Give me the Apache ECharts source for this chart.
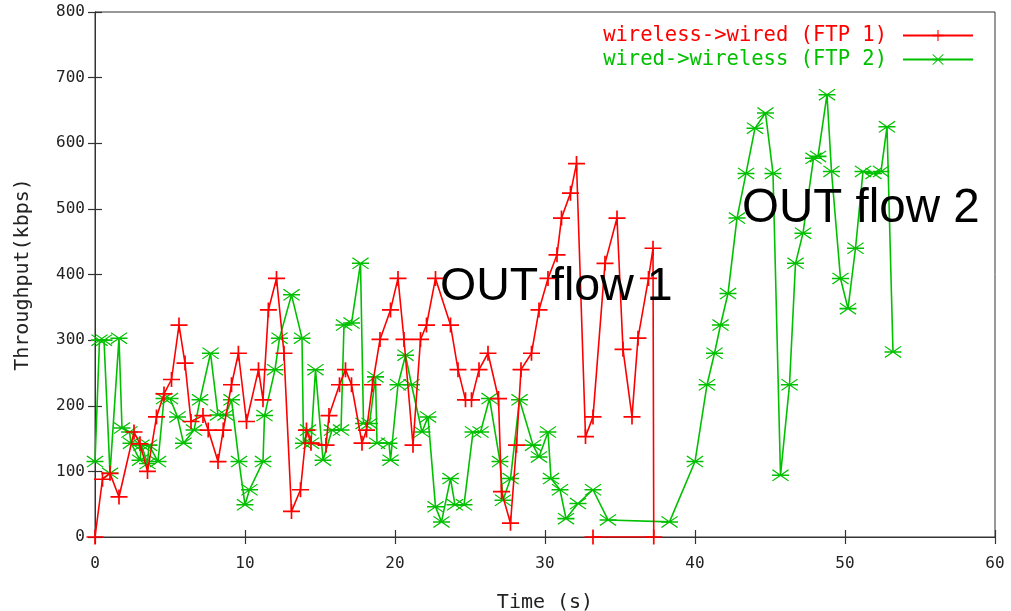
<!DOCTYPE html>
<html>
<head>
<meta charset="utf-8">
<script src="https://cdn.jsdelivr.net/npm/echarts@6/dist/echarts.min.js"></script>
<style>
html,body{margin:0;padding:0;background:#fff;}
#c{width:1011px;height:611px;}
</style>
</head>
<body>
<div id="c"></div>
<script>
// ---- data (time in s, throughput in kbps) ----
const seriesNames = ['wireless->wired (FTP 1)', 'wired->wireless (FTP 2)'];
const ftp1Time = [0,0.5,1.0,1.6,2.6,3.0,3.5,4.1,4.6,5.1,5.6,6.0,6.4,7.2,7.55,8.2,8.55,9.1,9.56,10.1,10.9,11.2,11.56,12.1,12.6,13.1,13.7,14.1,14.4,15.4,15.6,16.3,16.7,17.1,17.8,18.1,18.5,19.0,19.7,20.2,20.6,21.2,21.7,22.1,22.7,23.7,24.2,24.7,25.1,25.6,26.2,26.9,27.1,27.7,28.1,28.4,29.1,29.6,30.2,30.8,31.1,31.7,32.1,32.7,33.2,34.0,34.8,35.2,35.8,36.2,36.9,37.2,37.25,33.2];
const ftp1Kbps = [0,88,97,61,160,142,100,183,218,240,323,265,176,185,163,115,163,232,280,176,255,209,346,394,280,39,72,163,143,140,185,232,255,232,143,163,232,301,346,394,301,140,301,323,394,323,255,209,209,255,280,211,69,21,140,255,280,346,394,430,486,524,569,153,183,417,486,286,183,303,394,440,0,0];
const ftp2Time = [0,0.3,0.6,1.0,1.6,1.8,2.3,2.4,3.0,3.1,3.5,3.6,4.2,4.6,5.0,5.5,5.9,6.6,7.0,7.7,8.2,8.7,9.1,9.6,10.0,10.3,11.2,11.3,12.0,12.3,13.1,13.8,13.9,14.2,14.4,14.7,15.2,15.8,16.4,16.6,17.1,17.7,17.9,18.3,18.7,18.8,19.6,19.7,20.2,20.7,21.1,21.8,22.2,22.7,23.1,23.7,24.0,24.6,25.2,25.7,26.3,27.0,27.2,27.7,28.3,29.2,29.6,30.2,30.4,31.0,31.4,32.2,33.2,34.2,38.3,40.0,40.8,41.3,41.7,42.2,42.8,43.4,44.0,44.7,45.2,45.7,46.3,46.7,47.2,47.9,48.2,48.8,49.1,49.7,50.2,50.7,51.2,51.9,52.4,52.8,53.2];
const ftp2Kbps = [115,300,300,97,303,166,160,143,117,140,112,140,115,211,211,183,143,163,209,280,186,186,209,115,49,72,115,185,255,303,369,303,143,163,143,255,117,163,163,323,326,417,173,173,244,143,143,117,232,277,232,160,183,46,23,89,49,49,160,160,211,115,56,89,209,140,122,160,89,72,28,51,72,26,23,115,232,280,323,371,486,554,623,646,554,94,232,417,463,577,580,674,557,394,348,440,557,554,557,625,282];
const xTicks = {min: 0, max: 60, interval: 10};
const yTicks = {min: 0, max: 800, interval: 100};
const annotations = ['OUT flow 1', 'OUT flow 2'];

function pairs(t, v){ return t.map((x,i)=>[x, v[i]]); }

const plusPath = 'path://M0,6.2h16v1.6h-16z M7.2,0h1.6v14h-1.6z';
const starPath = 'path://M0,4.8h16v1.4h-16z M0.8,0L16,10.2L15.2,11L0,0.8z M15.2,0L16,0.8L0.8,11L0,10.2z';

const mono = 'DejaVu Sans Mono';
const chart = echarts.init(document.getElementById('c'), null, {renderer:'canvas'});
const axisCommon = {
  axisLine:{show:true, lineStyle:{color:'#333', width:1}},
  axisTick:{show:true, inside:true, length:7, lineStyle:{color:'#333', width:1.2}},
  splitLine:{show:false}
};
chart.setOption({
  animation:false,
  backgroundColor:'#fff',
  grid:{left:95, right:16, top:12, bottom:74, show:true, borderColor:'#333', borderWidth:1,
        containLabel:false, outerBoundsMode:'none'},
  legend:{
    orient:'vertical', align:'right', right:32, top:20, itemWidth:70, itemHeight:14, itemGap:3,
    textStyle:{fontFamily:mono, fontSize:20.5, padding:[0,11,0,0]},
    data:[
      {name:seriesNames[0], textStyle:{color:'#ff0000'}},
      {name:seriesNames[1], textStyle:{color:'#00c000'}}
    ]
  },
  xAxis:[
    Object.assign({type:'value', position:'bottom', min:xTicks.min, max:xTicks.max, interval:xTicks.interval,
      name:'Time (s)', nameLocation:'middle', nameGap:56,
      nameTextStyle:{fontFamily:mono, fontSize:20, color:'#222'},
      axisLabel:{fontFamily:mono, fontSize:16, color:'#222', margin:19}}, axisCommon),
    Object.assign({type:'value', position:'top', min:xTicks.min, max:xTicks.max, interval:xTicks.interval,
      axisLabel:{show:false}}, axisCommon)
  ],
  yAxis:[
    Object.assign({type:'value', position:'left', min:yTicks.min, max:yTicks.max, interval:yTicks.interval,
      name:'Throughput(kbps)', nameLocation:'middle', nameGap:62, nameRotate:90,
      nameTextStyle:{fontFamily:mono, fontSize:20, color:'#222'},
      axisLabel:{fontFamily:mono, fontSize:16, color:'#222', margin:10}}, axisCommon),
    Object.assign({type:'value', position:'right', min:yTicks.min, max:yTicks.max, interval:yTicks.interval,
      axisLabel:{show:false}}, axisCommon)
  ],
  series:[
    {name:seriesNames[0], type:'line', xAxisIndex:0, yAxisIndex:0, data:pairs(ftp1Time, ftp1Kbps),
      symbol:plusPath, symbolSize:[17,15], showSymbol:true, showAllSymbol:true, symbolKeepAspect:false,
      lineStyle:{color:'#ff0000', width:1.6}, itemStyle:{color:'#ff0000'}, z:3},
    {name:seriesNames[1], type:'line', xAxisIndex:0, yAxisIndex:0, data:pairs(ftp2Time, ftp2Kbps),
      symbol:starPath, symbolSize:[17,12], showSymbol:true, showAllSymbol:true, symbolKeepAspect:false,
      lineStyle:{color:'#00c000', width:1.6}, itemStyle:{color:'#00c000'}, z:2}
  ],
  graphic:[
    {type:'text', x:440, y:287, z:10, style:{text:annotations[0], font:'46.5px "Liberation Sans", Arial, sans-serif', fill:'#000', align:'left', verticalAlign:'middle'}},
    {type:'text', x:742, y:209, z:10, style:{text:annotations[1], font:'47.5px "Liberation Sans", Arial, sans-serif', fill:'#000', align:'left', verticalAlign:'middle'}}
  ]
});
</script>
</body>
</html>
